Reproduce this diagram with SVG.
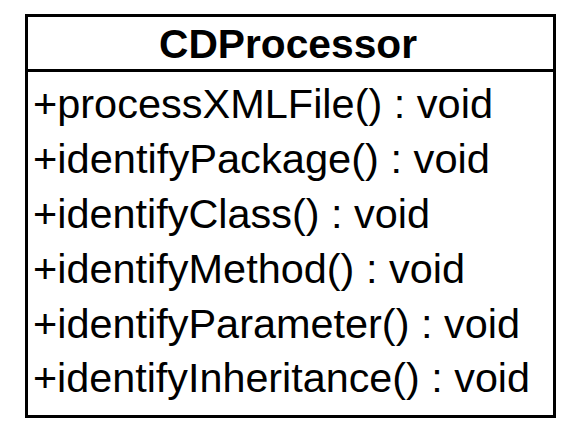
<svg xmlns="http://www.w3.org/2000/svg" width="576" height="428" viewBox="0 0 576 428">
  <style>
    .frame { fill: #ffffff; stroke: #000000; stroke-width: 3; }
    .divider { stroke: #000000; stroke-width: 3; }
    .title { font-family: "Liberation Sans", Arial, sans-serif; font-weight: bold; font-size: 41px; fill: #000000; }
    .op { font-family: "Liberation Sans", Arial, sans-serif; font-size: 41px; fill: #000000; }
  </style>
  <rect width="576" height="428" fill="#ffffff"/>
  <g id="CDProcessor">
    <rect class="frame" x="26.5" y="15.5" width="528" height="401"/>
    <line class="divider" x1="26.5" y1="70.5" x2="554.5" y2="70.5"/>
    <text class="title" x="159" y="58" textLength="258" lengthAdjust="spacingAndGlyphs">CDProcessor</text>
    <text class="op" x="33" y="118" textLength="460" lengthAdjust="spacingAndGlyphs">+processXMLFile() : void</text>
    <text class="op" x="33" y="173" textLength="457" lengthAdjust="spacingAndGlyphs">+identifyPackage() : void</text>
    <text class="op" x="33" y="228" textLength="397" lengthAdjust="spacingAndGlyphs">+identifyClass() : void</text>
    <text class="op" x="33" y="283" textLength="432" lengthAdjust="spacingAndGlyphs">+identifyMethod() : void</text>
    <text class="op" x="33" y="338" textLength="487" lengthAdjust="spacingAndGlyphs">+identifyParameter() : void</text>
    <text class="op" x="33" y="392" textLength="497" lengthAdjust="spacingAndGlyphs">+identifyInheritance() : void</text>
  </g>
  <g id="connectors"/>
</svg>
